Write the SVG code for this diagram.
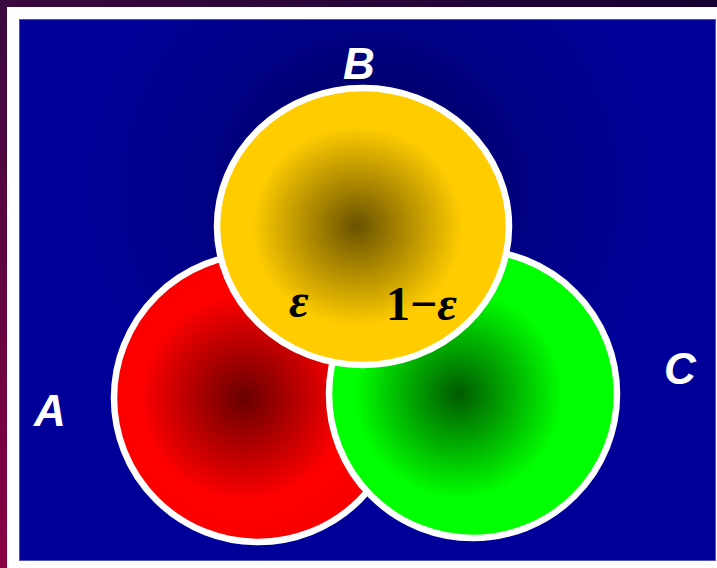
<svg xmlns="http://www.w3.org/2000/svg" width="717" height="568" viewBox="0 0 717 568">
  <defs>
    <linearGradient id="outer" x1="1" y1="0" x2="0" y2="1">
      <stop offset="0" stop-color="#160030"/>
      <stop offset="0.5" stop-color="#3a0a40"/>
      <stop offset="1" stop-color="#8a0042"/>
    </linearGradient>
    <radialGradient id="bg" cx="370" cy="190" r="300" gradientUnits="userSpaceOnUse">
      <stop offset="0" stop-color="#000050"/>
      <stop offset="0.55" stop-color="#000085"/>
      <stop offset="1" stop-color="#000099"/>
    </radialGradient>
    <radialGradient id="gRed" cx="0.45" cy="0.5" r="0.5">
      <stop offset="0" stop-color="#6a0000"/>
      <stop offset="0.72" stop-color="#ff0000"/>
      <stop offset="1" stop-color="#f80000"/>
    </radialGradient>
    <radialGradient id="gGreen" cx="0.45" cy="0.5" r="0.5">
      <stop offset="0" stop-color="#005a00"/>
      <stop offset="0.72" stop-color="#00ff00"/>
      <stop offset="1" stop-color="#00ff00"/>
    </radialGradient>
    <radialGradient id="gYellow" cx="0.48" cy="0.5" r="0.5">
      <stop offset="0" stop-color="#6a5200"/>
      <stop offset="0.72" stop-color="#ffcc00"/>
      <stop offset="1" stop-color="#ffcc00"/>
    </radialGradient>
  </defs>
  <style>
    .circ { stroke: #ffffff; stroke-width: 6.5; }
    .lbl { font-family: "Liberation Sans", Arial, sans-serif; font-weight: bold; font-style: italic; font-size: 44px; fill: #ffffff; }
    .math { font-family: "Liberation Serif", "Times New Roman", serif; font-weight: bold; font-size: 48px; fill: #000000; }
  </style>
  <rect x="0" y="0" width="717" height="568" fill="url(#outer)"/>
  <rect x="7" y="7" width="710" height="561" fill="#ffffff"/>
  <rect x="19.5" y="19.5" width="696" height="541" fill="url(#bg)" stroke="#5050c0" stroke-width="1"/>

  <g id="nodeA">
    <circle class="circ" cx="258" cy="398" r="144" fill="url(#gRed)"/>
    <text class="lbl" x="34" y="426">A</text>
  </g>
  <g id="nodeC">
    <circle class="circ" cx="473" cy="394" r="144" fill="url(#gGreen)"/>
    <text class="lbl" x="664" y="384">C</text>
  </g>
  <g id="nodeB">
    <ellipse class="circ" cx="363" cy="226.5" rx="146" ry="138.5" fill="url(#gYellow)"/>
    <text class="lbl" x="343" y="79">B</text>
    <text class="math" x="289" y="317" font-style="italic">ε</text>
    <text class="math" x="386" y="320">1−<tspan font-style="italic">ε</tspan></text>
  </g>
</svg>
